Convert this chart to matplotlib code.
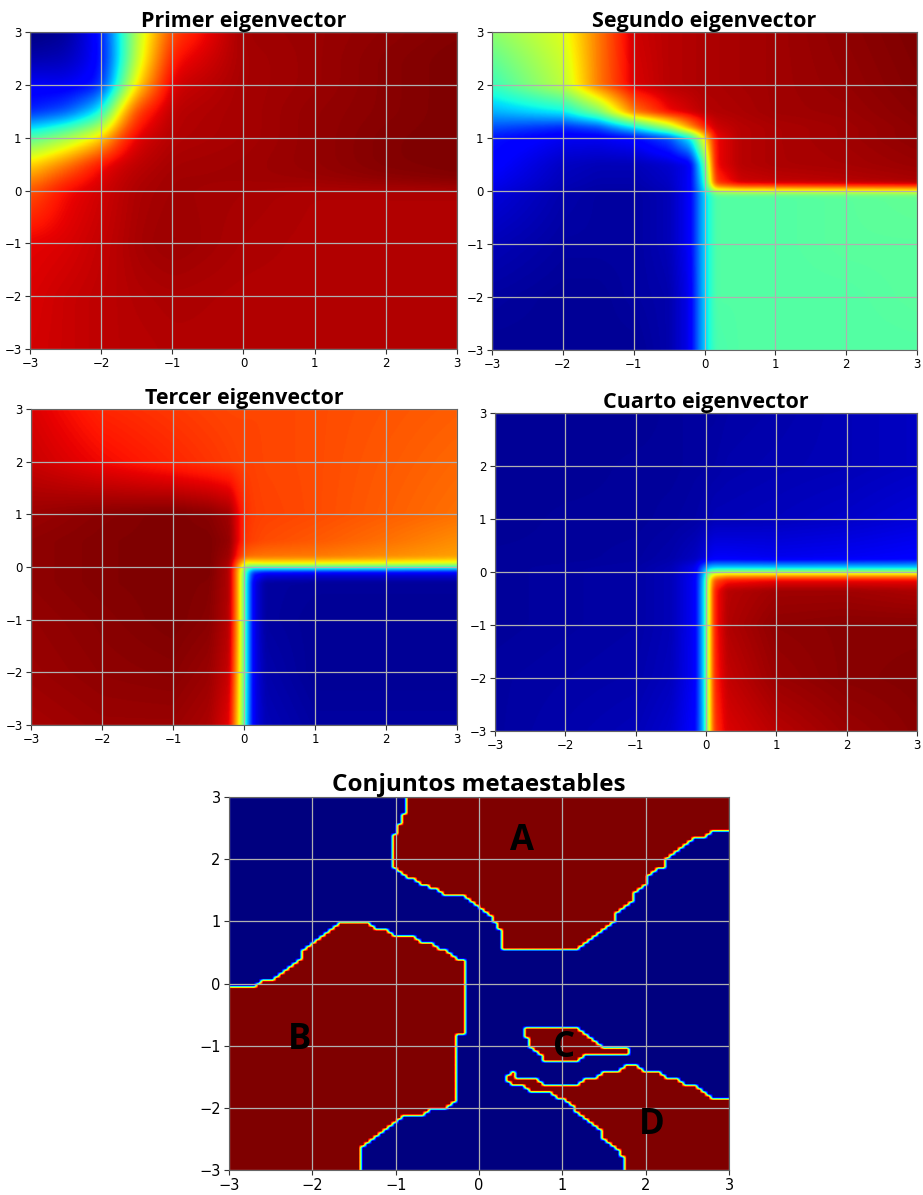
import numpy as np
import matplotlib

matplotlib.use("Agg")
import matplotlib.pyplot as plt
from matplotlib.path import Path

W, H = 923, 1195

# ---- eigenvector fields, sampled on rectilinear nodes (rows from y=3 down to y=-3) ----
ev1_x = [-3, -2.5, -2, -1.75, -1.5, -1, 0, 1, 2, 3]
ev1_y = [3, 2.5, 2, 1.5, 1, 0.5, 0.2, 0, -1, -2, -3]
ev1 = [
    [0.00, 0.02, 0.13, 0.36, 0.58, 0.84, 0.97, 0.975, 0.985, 0.995],
    [0.04, 0.05, 0.12, 0.35, 0.60, 0.89, 0.965, 0.975, 0.99, 1.0],
    [0.11, 0.10, 0.14, 0.42, 0.68, 0.93, 0.965, 0.975, 0.99, 1.0],
    [0.15, 0.20, 0.36, 0.66, 0.85, 0.95, 0.965, 0.98, 0.99, 1.0],
    [0.45, 0.55, 0.68, 0.84, 0.92, 0.955, 0.965, 0.98, 0.995, 1.0],
    [0.68, 0.78, 0.90, 0.93, 0.945, 0.965, 0.97, 0.98, 0.995, 1.0],
    [0.76, 0.86, 0.92, 0.94, 0.955, 0.97, 0.97, 0.975, 0.985, 0.995],
    [0.82, 0.90, 0.93, 0.945, 0.96, 0.97, 0.965, 0.957, 0.957, 0.957],
    [0.91, 0.92, 0.94, 0.95, 0.965, 0.975, 0.96, 0.955, 0.955, 0.955],
    [0.92, 0.935, 0.945, 0.95, 0.955, 0.96, 0.955, 0.955, 0.955, 0.955],
    [0.925, 0.935, 0.945, 0.95, 0.95, 0.955, 0.955, 0.955, 0.955, 0.955],
]

ev2_x = [-3, -2, -1.5, -1, -0.5, -0.2, 0, 0.15, 0.5, 1, 2, 3]
ev2_y = [3, 2, 1.5, 1.2, 1, 0.5, 0.15, -0.08, -1, -2, -3]
ev2 = [
    [0.52, 0.62, 0.78, 0.93, 0.95, 0.955, 0.96, 0.96, 0.965, 0.97, 0.985, 1.0],
    [0.42, 0.58, 0.78, 0.92, 0.95, 0.955, 0.96, 0.96, 0.965, 0.97, 0.98, 0.995],
    [0.30, 0.36, 0.50, 0.78, 0.90, 0.93, 0.95, 0.955, 0.96, 0.97, 0.975, 0.99],
    [0.20, 0.16, 0.20, 0.35, 0.55, 0.75, 0.87, 0.93, 0.95, 0.96, 0.97, 0.985],
    [0.14, 0.10, 0.10, 0.12, 0.20, 0.36, 0.65, 0.90, 0.95, 0.96, 0.97, 0.985],
    [0.12, 0.06, 0.05, 0.05, 0.07, 0.10, 0.45, 0.90, 0.95, 0.96, 0.965, 0.975],
    [0.10, 0.05, 0.04, 0.04, 0.06, 0.11, 0.38, 0.85, 0.93, 0.94, 0.95, 0.96],
    [0.08, 0.04, 0.03, 0.03, 0.05, 0.11, 0.33, 0.45, 0.45, 0.45, 0.46, 0.47],
    [0.05, 0.03, 0.03, 0.03, 0.05, 0.11, 0.33, 0.45, 0.45, 0.45, 0.46, 0.46],
    [0.03, 0.02, 0.02, 0.03, 0.04, 0.10, 0.33, 0.45, 0.45, 0.45, 0.45, 0.46],
    [0.02, 0.02, 0.02, 0.02, 0.04, 0.10, 0.33, 0.44, 0.45, 0.45, 0.45, 0.45],
]

ev3_x = [-3, -2, -1, -0.5, -0.2, -0.07, 0.03, 0.13, 0.3, 1, 2, 3]
ev3_y = [3, 2, 1, 0.5, 0.2, 0.07, -0.03, -0.12, -0.3, -1, -2, -3]
ev3 = [
    [0.92, 0.87, 0.85, 0.84, 0.835, 0.835, 0.835, 0.835, 0.835, 0.83, 0.82, 0.81],
    [0.935, 0.90, 0.87, 0.855, 0.845, 0.84, 0.84, 0.84, 0.835, 0.83, 0.815, 0.80],
    [0.975, 0.99, 1.0, 0.99, 0.97, 0.90, 0.86, 0.845, 0.84, 0.83, 0.81, 0.79],
    [0.985, 0.995, 1.0, 1.0, 0.98, 0.90, 0.85, 0.84, 0.83, 0.815, 0.79, 0.76],
    [0.985, 0.995, 1.0, 1.0, 0.97, 0.86, 0.80, 0.79, 0.785, 0.78, 0.76, 0.74],
    [0.985, 0.995, 1.0, 1.0, 0.96, 0.77, 0.62, 0.64, 0.65, 0.65, 0.64, 0.62],
    [0.985, 0.995, 1.0, 1.0, 0.955, 0.71, 0.45, 0.35, 0.35, 0.35, 0.34, 0.32],
    [0.985, 0.995, 1.0, 1.0, 0.955, 0.70, 0.40, 0.15, 0.10, 0.09, 0.09, 0.09],
    [0.985, 0.995, 1.0, 0.995, 0.955, 0.70, 0.38, 0.10, 0.03, 0.025, 0.025, 0.025],
    [0.98, 0.99, 1.0, 0.99, 0.95, 0.70, 0.38, 0.10, 0.03, 0.02, 0.02, 0.02],
    [0.975, 0.985, 0.99, 0.975, 0.935, 0.68, 0.38, 0.10, 0.04, 0.02, 0.02, 0.02],
    [0.965, 0.975, 0.975, 0.96, 0.91, 0.66, 0.36, 0.10, 0.05, 0.03, 0.03, 0.03],
]

ev4_x = [-3, -2, -1, -0.5, -0.15, -0.03, 0.05, 0.12, 0.3, 1, 2, 3]
ev4_y = [3, 2, 1, 0.25, 0.07, -0.03, -0.15, -0.35, -1, -2, -3]
ev4 = [
    [0.02, 0.02, 0.02, 0.025, 0.03, 0.03, 0.03, 0.03, 0.035, 0.04, 0.05, 0.06],
    [0.02, 0.02, 0.025, 0.025, 0.03, 0.03, 0.035, 0.035, 0.04, 0.045, 0.05, 0.06],
    [0.02, 0.025, 0.025, 0.03, 0.035, 0.04, 0.045, 0.05, 0.05, 0.055, 0.065, 0.08],
    [0.025, 0.025, 0.03, 0.04, 0.06, 0.08, 0.10, 0.11, 0.11, 0.10, 0.105, 0.115],
    [0.025, 0.03, 0.035, 0.05, 0.10, 0.25, 0.33, 0.35, 0.35, 0.35, 0.35, 0.35],
    [0.025, 0.03, 0.035, 0.05, 0.10, 0.30, 0.55, 0.62, 0.65, 0.65, 0.65, 0.65],
    [0.025, 0.03, 0.035, 0.05, 0.11, 0.33, 0.65, 0.82, 0.88, 0.90, 0.90, 0.90],
    [0.025, 0.03, 0.035, 0.05, 0.11, 0.34, 0.66, 0.88, 0.95, 0.97, 0.97, 0.96],
    [0.025, 0.03, 0.035, 0.05, 0.11, 0.34, 0.66, 0.88, 0.955, 0.985, 0.99, 0.99],
    [0.03, 0.035, 0.04, 0.055, 0.11, 0.34, 0.66, 0.87, 0.94, 0.975, 0.99, 0.995],
    [0.03, 0.04, 0.05, 0.07, 0.12, 0.33, 0.65, 0.85, 0.92, 0.95, 0.975, 0.99],
]

# ---- metastable sets: boundary polygons ----
set_a = [(-0.87, 3.2), (-0.87, 2.81), (-0.95, 2.73), (-0.97, 2.49), (-1.03, 2.43),
         (-1.05, 1.90), (-0.80, 1.68), (-0.61, 1.57), (-0.42, 1.45), (-0.20, 1.45),
         (0.12, 1.14), (0.16, 1.03), (0.25, 0.90), (0.27, 0.55), (1.21, 0.55),
         (1.64, 1.00), (1.66, 1.14), (1.85, 1.33), (1.87, 1.44), (2.04, 1.65),
         (2.06, 1.76), (2.26, 1.92), (2.28, 2.03), (2.58, 2.35), (2.71, 2.35),
         (2.82, 2.46), (3.2, 2.46), (3.2, 3.2)]
set_b = [(-3.2, -0.035), (-2.71, -0.035), (-2.60, 0.07), (-2.49, 0.07), (-2.17, 0.41),
         (-2.15, 0.52), (-1.70, 0.97), (-1.32, 0.97), (-1.19, 0.87), (-1.10, 0.87),
         (-1.00, 0.78), (-0.83, 0.78), (-0.70, 0.68), (-0.61, 0.68), (-0.50, 0.57),
         (-0.42, 0.57), (-0.16, 0.33), (-0.16, -0.80), (-0.25, -0.85), (-0.27, -0.96),
         (-0.27, -1.91), (-0.40, -2.05), (-0.59, -2.05), (-0.72, -2.15), (-0.89, -2.15),
         (-1.45, -2.69), (-1.45, -3.2), (-3.2, -3.2)]
set_c = [(0.57, -0.74), (1.21, -0.74), (1.49, -1.03), (1.81, -1.03), (1.85, -1.10),
         (1.81, -1.15), (1.27, -1.15), (1.19, -1.25), (0.80, -1.25), (0.63, -1.03),
         (0.61, -0.94), (0.55, -0.85), (0.55, -0.77)]
set_d = [(0.35, -1.50), (0.40, -1.44), (0.47, -1.53), (0.68, -1.53), (0.80, -1.64),
         (1.19, -1.64), (1.30, -1.53), (1.43, -1.53), (1.51, -1.42), (1.68, -1.42),
         (1.79, -1.31), (1.89, -1.31), (2.00, -1.42), (2.19, -1.42), (2.30, -1.53),
         (2.41, -1.53), (2.51, -1.64), (2.60, -1.64), (2.82, -1.85), (3.2, -1.85),
         (3.2, -3.2), (1.75, -3.2), (1.75, -2.80), (1.48, -2.50), (1.46, -2.39),
         (1.18, -2.09), (1.16, -1.99), (1.01, -1.85), (0.92, -1.85), (0.84, -1.74),
         (0.60, -1.74), (0.51, -1.66), (0.40, -1.66), (0.33, -1.58)]
set_names = ["A", "B", "C", "D"]
name_pos = [(0.52, 2.30), (-2.15, -0.91), (1.02, -1.04), (2.07, -2.28)]


def dense_field(xn, yn, table, n=400, sigma=0):
    """Bilinear resampling of a node table onto a regular n x n grid, lightly smoothed."""
    xf = np.linspace(-3, 3, n)
    yf = np.linspace(-3, 3, n)
    z = np.asarray(table, dtype=float)[::-1]
    yv = np.asarray(yn, dtype=float)[::-1]
    rows = np.array([np.interp(xf, xn, r) for r in z])
    field = np.array([np.interp(yf, yv, rows[:, j]) for j in range(n)]).T
    if sigma > 0:
        r = int(3 * sigma) + 1
        k = np.exp(-0.5 * (np.arange(-r, r + 1) / sigma) ** 2)
        k /= k.sum()
        field = np.pad(field, r, mode="edge")
        field = np.apply_along_axis(lambda v: np.convolve(v, k, mode="valid"), 0, field)
        field = np.apply_along_axis(lambda v: np.convolve(v, k, mode="valid"), 1, field)
    return field


def panel(box, fontsize=8.5):
    left, top, right, bottom = box
    ax = fig.add_axes([left / W, 1 - bottom / H, (right - left) / W, (bottom - top) / H])
    ax.set_xlim(-3, 3)
    ax.set_ylim(-3, 3)
    ax.set_xticks(range(-3, 4))
    ax.set_yticks(range(-3, 4))
    ax.tick_params(labelsize=fontsize, length=3.5, pad=2.5, color="#333333")
    ax.grid(True, color="#b0b0b0", linewidth=0.9)
    for s in ax.spines.values():
        s.set_color("#666666")
        s.set_linewidth(0.8)
    return ax


fig = plt.figure(figsize=(W / 100, H / 100), dpi=100)
title_font = dict(family=["Open Sans", "DejaVu Sans"], fontweight="bold")

panels = [
    ("Primer eigenvector", (30, 32, 457, 349), ev1_x, ev1_y, ev1, 8),
    ("Segundo eigenvector", (492, 32, 917, 350), ev2_x, ev2_y, ev2, 3),
    ("Tercer eigenvector", (31, 409, 457, 725), ev3_x, ev3_y, ev3, 2),
    ("Cuarto eigenvector", (495, 413, 917, 731), ev4_x, ev4_y, ev4, 2),
]
for title, box, xn, yn, table, sigma in panels:
    ax = panel(box)
    ax.imshow(dense_field(xn, yn, table, sigma=sigma), extent=(-3, 3, -3, 3),
              origin="lower", cmap="jet", vmin=0, vmax=1, aspect="auto",
              interpolation="bilinear")
    ax.set_title(title, fontsize=15.5, pad=0.5, **title_font)

# metastable sets as an indicator image
ax = panel((229, 797, 729, 1170), fontsize=10.5)
n = 110
g = np.linspace(-3, 3, n)
gx, gy = np.meshgrid(g, g)
pts = np.column_stack([gx.ravel(), gy.ravel()])
mask = np.zeros(n * n)
for poly in (set_a, set_b, set_c, set_d):
    mask[Path(poly).contains_points(pts)] = 1.0
ax.imshow(mask.reshape(n, n), extent=(-3, 3, -3, 3), origin="lower", cmap="jet",
          vmin=0, vmax=1, aspect="auto", interpolation="bilinear",
          interpolation_stage="data")
for name, (x, y) in zip(set_names, name_pos):
    ax.text(x, y, name, fontsize=25, ha="center", va="center", color="black",
            family=["Open Sans", "DejaVu Sans"], fontweight="bold")
ax.set_title("Conjuntos metaestables", fontsize=17.5, pad=0, **title_font)

fig.savefig("out.png", dpi=100)
